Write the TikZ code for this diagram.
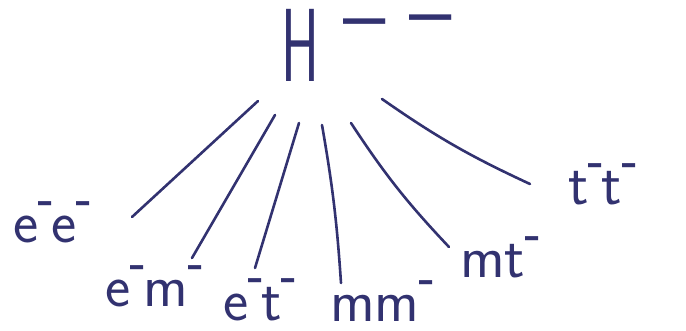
\documentclass[tikz,border=0pt]{standalone}
\usepackage{fontspec}
\usepackage{graphicx}
\setmainfont{Latin Modern Sans}
\definecolor{ink}{RGB}{50,50,112}
\newcommand{\smn}{\smash{\raisebox{21pt}{\scalebox{1}[2.4]{\fontsize{28}{28}\selectfont\char"2013}}}}
\newcommand{\bigmn}[1]{\smash{\raisebox{#1}{\fontsize{90}{90}\selectfont\char"2013}}}
\tikzset{
  lbl/.style={anchor=base west, inner sep=0pt, text=ink, font=\fontsize{60}{60}\selectfont},
  stroke/.style={draw=ink, line width=2.6pt, line cap=round}
}
\begin{document}
\begin{tikzpicture}[x=1pt,y=-1pt]
\useasboundingbox (0,0) rectangle (686,331);
\node[anchor=base west, inner sep=0pt, text=ink] (H) at (281,82)
  {\scalebox{0.55}[1]{\fontsize{104}{104}\selectfont H}\hspace{24pt}\bigmn{36pt}\hspace{24pt}\bigmn{40pt}};
\node[lbl] (ee) at (13,243) {e\smn e\smn};
\node[lbl] (em) at (105,307) {e\smn m\smn};
\node[lbl] (et) at (223,320) {e\smn t\smn};
\node[lbl] (mm) at (330,322) {mm\smn};
\node[lbl] (mt) at (460,278) {mt\smn};
\node[lbl] (tt) at (568,205) {t\smn t\smn};
\coordinate (a1) at (258,101); \coordinate (b1) at (132,217);
\coordinate (a2) at (275,115); \coordinate (b2) at (192,258);
\coordinate (a3) at (299,123); \coordinate (b3) at (255,268);
\coordinate (a4) at (322,125); \coordinate (b4) at (341,283);
\coordinate (a5) at (351,123); \coordinate (b5) at (449,247);
\coordinate (a6) at (382,99);  \coordinate (b6) at (530,184);
\draw[stroke] (a1) -- (b1);
\draw[stroke] (a2) -- (b2);
\draw[stroke] (a3) -- (b3);
\draw[stroke] (a4) to[bend left=3] (b4);
\draw[stroke] (a5) to[bend right=5] (b5);
\draw[stroke] (a6) to[bend right=5] (b6);
\end{tikzpicture}
\end{document}
